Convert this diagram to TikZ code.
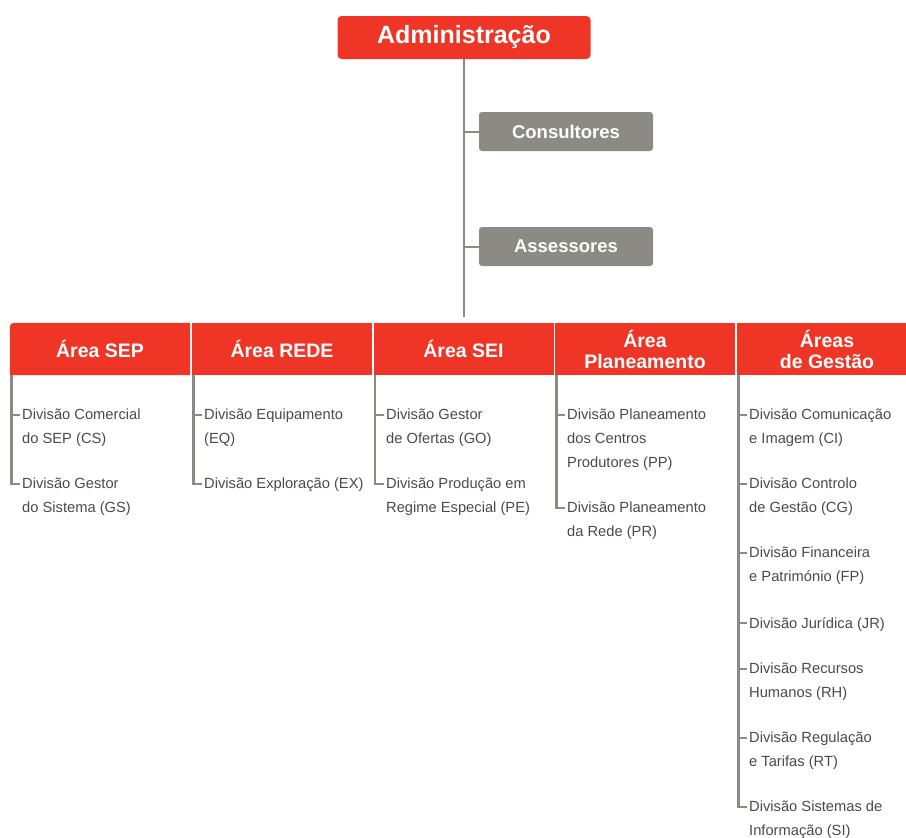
\documentclass[tikz,border=0pt]{standalone}
\usepackage{fontspec}
\setmainfont{Liberation Sans}
\usepackage{xcolor}
\usepackage{tikz}
\usetikzlibrary{backgrounds}

\definecolor{edpred}{HTML}{EE3526}
\definecolor{edpgray}{HTML}{8C8B83}
\definecolor{divtxt}{HTML}{4A4A4A}

\tikzset{
  orgline/.style={draw=edpgray, line width=2.6pt},
  tickline/.style={draw=edpgray, line width=2pt},
  admbox/.style={fill=edpred, rounded corners=4pt, minimum width=253pt, minimum height=43pt,
    inner sep=0pt, text=white, font=\fontsize{25}{29}\selectfont\bfseries},
  advbox/.style={fill=edpgray, rounded corners=3pt, minimum width=174pt, minimum height=39pt,
    inner sep=0pt, text=white, font=\fontsize{18.5}{22}\selectfont\bfseries},
  areacell/.style={minimum width=180pt, minimum height=52pt, inner sep=0pt, text=white,
    align=center, font=\fontsize{19.5}{21}\selectfont\bfseries},
  divtext/.style={anchor=north west, yshift=6pt, inner sep=0pt, align=left, text=divtxt,
    font=\fontsize{14.7}{24}\selectfont}
}

\begin{document}
\begin{tikzpicture}[x=1pt, y=-1pt]
        \useasboundingbox (0,0) rectangle (906,838);

        % Top of the chart
        \node[admbox] (admin) at (464,37.5) {Administração};
        \node[advbox] (cons) at (566,131.5) {Consultores};
        \node[advbox] (asse) at (566,246.5) {Assessores};

        % Area headers
        \node[areacell] (sep) at (100,349) {Área SEP};
        \node[areacell, fill=edpred] (rede) at (282,349) {Área REDE};
        \node[areacell, fill=edpred] (sei) at (463.5,349) {Área SEI};
        \node[areacell, fill=edpred] (plan) at (645,349) {Área\\Planeamento};
        \node[areacell, fill=edpred] (gest) at (827,349) {Áreas\\de Gestão};
        \begin{pgfonlayer}{background}
            \fill[edpred] (sep.south west) [rounded corners=4pt] -- (sep.north west)
                [sharp corners] -- (sep.north east) -- (sep.south east) -- cycle;
        \end{pgfonlayer}

        % Main line
        \draw[orgline] (admin.south) -- ([yshift=6pt]admin.south |- sei.north);
        \draw[tickline] (admin.south |- cons.west) -- (cons.west);
        \draw[tickline] (admin.south |- asse.west) -- (asse.west);

        % Divisions
        \node[divtext] (cs) at (22,415) {Divisão Comercial\\do SEP (CS)};
        \node[divtext] (gs) at (22,484) {Divisão Gestor\\do Sistema (GS)};

        \node[divtext] (eq) at (204,415) {Divisão Equipamento\\(EQ)};
        \node[divtext] (ex) at (204,484) {Divisão Exploração (EX)};

        \node[divtext] (go) at (386,415) {Divisão Gestor\\de Ofertas (GO)};
        \node[divtext] (pe) at (386,484) {Divisão Produção em\\Regime Especial (PE)};

        \node[divtext] (pp) at (567,415) {Divisão Planeamento\\dos Centros\\Produtores (PP)};
        \node[divtext] (pr) at (567,508) {Divisão Planeamento\\da Rede (PR)};

        \node[divtext] (ci) at (749,415) {Divisão Comunicação\\e Imagem (CI)};
        \node[divtext] (cg) at (749,484) {Divisão Controlo\\de Gestão (CG)};
        \node[divtext] (fp) at (749,553) {Divisão Financeira\\e Património (FP)};
        \node[divtext] (jr) at (749,623) {Divisão Jurídica (JR)};
        \node[divtext] (rh) at (749,669) {Divisão Recursos\\Humanos (RH)};
        \node[divtext] (rt) at (749,738) {Divisão Regulação\\e Tarifas (RT)};
        \node[divtext] (si) at (749,807) {Divisão Sistemas de\\Informação (SI)};

        % Area lines
        \draw[orgline] ([xshift=1.5pt]sep.south west) |- ([xshift=-2pt,yshift=-6pt]gs.north west);
        \draw[tickline] ([xshift=-2pt,yshift=-6pt]cs.north west) -- ++(-9,0);

        \draw[orgline] ([xshift=1.5pt]rede.south west) |- ([xshift=-2pt,yshift=-6pt]ex.north west);
        \draw[tickline] ([xshift=-2pt,yshift=-6pt]eq.north west) -- ++(-9,0);

        \draw[orgline] ([xshift=1.5pt]sei.south west) |- ([xshift=-2pt,yshift=-6pt]pe.north west);
        \draw[tickline] ([xshift=-2pt,yshift=-6pt]go.north west) -- ++(-9,0);

        \draw[orgline] ([xshift=1.5pt]plan.south west) |- ([xshift=-2pt,yshift=-6pt]pr.north west);
        \draw[tickline] ([xshift=-2pt,yshift=-6pt]pp.north west) -- ++(-9,0);

        \draw[orgline] ([xshift=1.5pt]gest.south west) |- ([xshift=-2pt,yshift=-6pt]si.north west);
        \draw[tickline] ([xshift=-2pt,yshift=-6pt]ci.north west) -- ++(-9,0);
        \draw[tickline] ([xshift=-2pt,yshift=-6pt]cg.north west) -- ++(-9,0);
        \draw[tickline] ([xshift=-2pt,yshift=-6pt]fp.north west) -- ++(-9,0);
        \draw[tickline] ([xshift=-2pt,yshift=-6pt]jr.north west) -- ++(-9,0);
        \draw[tickline] ([xshift=-2pt,yshift=-6pt]rh.north west) -- ++(-9,0);
        \draw[tickline] ([xshift=-2pt,yshift=-6pt]rt.north west) -- ++(-9,0);
    \end{tikzpicture}
\end{document}
